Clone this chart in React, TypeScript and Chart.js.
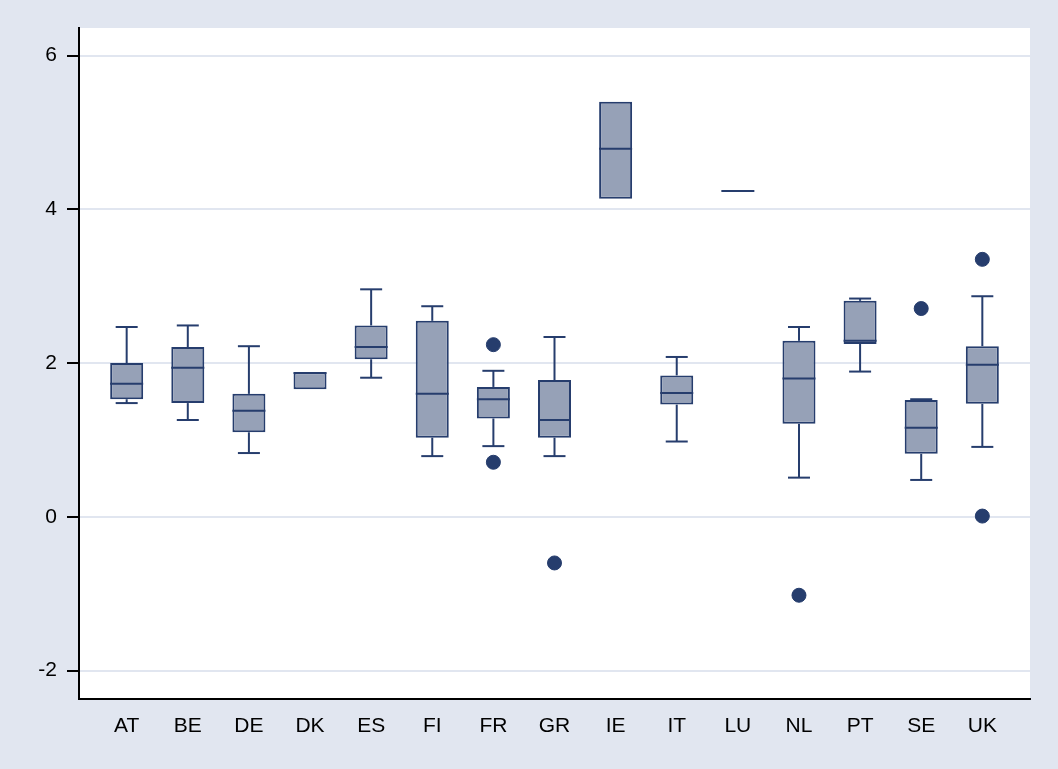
import { useEffect, useRef } from 'react'
import { Chart, registerables } from 'chart.js'

Chart.register(...registerables)

const countries = ['AT', 'BE', 'DE', 'DK', 'ES', 'FI', 'FR', 'GR', 'IE', 'IT', 'LU', 'NL', 'PT', 'SE', 'UK']
const whiskerHigh = [2.47, 2.49, 2.22, null, 2.96, 2.74, 1.9, 2.34, null, 2.08, null, 2.47, 2.84, 1.53, 2.87]
const upperQuartile = [2.0, 2.21, 1.6, 1.88, 2.49, 2.55, 1.69, 1.78, 5.4, 1.84, null, 2.29, 2.81, 1.52, 2.22]
const medians = [1.73, 1.94, 1.38, 1.87, 2.21, 1.6, 1.53, 1.26, 4.79, 1.61, 4.24, 1.8, 2.29, 1.16, 1.98]
const lowerQuartile = [1.53, 1.48, 1.1, 1.66, 2.05, 1.03, 1.28, 1.03, 4.14, 1.46, null, 1.21, 2.25, 0.82, 1.47]
const whiskerLow = [1.48, 1.26, 0.83, null, 1.81, 0.79, 0.92, 0.79, null, 0.98, null, 0.51, 1.89, 0.48, 0.91]
const outliers = [
  { x: 'FR', y: 2.24 },
  { x: 'FR', y: 0.71 },
  { x: 'GR', y: -0.6 },
  { x: 'NL', y: -1.02 },
  { x: 'SE', y: 2.71 },
  { x: 'UK', y: 3.35 },
  { x: 'UK', y: 0.01 },
]
const yTicks = [-2, 0, 2, 4, 6]

const NAVY = '#263d6d'
const FILL = '#96a1b7'
const BG = '#e1e6f0'
const EDGE = 0.78 // gap before first / after last box, in category widths

const boxPlugin = {
  id: 'boxParts',
  beforeDraw(chart: any) {
    const { ctx, chartArea: a } = chart
    ctx.save()
    ctx.fillStyle = '#ffffff'
    ctx.fillRect(a.left, a.top, a.right - a.left, a.bottom - a.top)
    ctx.restore()
  },
  afterDatasetsDraw(chart: any) {
    const { ctx, scales } = chart
    const x = scales.x
    const y = scales.y
    const meta = chart.getDatasetMeta(0)
    const halfBox = (meta.data[0]?.width ?? 33) / 2
    const halfCap = 11
    ctx.save()
    ctx.strokeStyle = NAVY
    ctx.lineWidth = 2
    countries.forEach((_, i) => {
      const cx = x.getPixelForValue(i)
      const line = (x1: number, y1: number, x2: number, y2: number) => {
        ctx.beginPath()
        ctx.moveTo(x1, y1)
        ctx.lineTo(x2, y2)
        ctx.stroke()
      }
      const hi = whiskerHigh[i]
      const q3 = upperQuartile[i]
      const q1 = lowerQuartile[i]
      const lo = whiskerLow[i]
      if (hi != null && q3 != null) {
        line(cx, y.getPixelForValue(q3), cx, y.getPixelForValue(hi))
        line(cx - halfCap, y.getPixelForValue(hi), cx + halfCap, y.getPixelForValue(hi))
      }
      if (lo != null && q1 != null) {
        line(cx, y.getPixelForValue(q1), cx, y.getPixelForValue(lo))
        line(cx - halfCap, y.getPixelForValue(lo), cx + halfCap, y.getPixelForValue(lo))
      }
      const m = y.getPixelForValue(medians[i])
      line(cx - halfBox, m, cx + halfBox, m)
    })
    ctx.restore()
  },
}

export default function App() {
  const canvasRef = useRef<HTMLCanvasElement>(null)

  useEffect(() => {
    if (!canvasRef.current) return
    document.body.style.margin = '0'
    const chart = new Chart(canvasRef.current, {
      type: 'bar',
      data: {
        labels: countries,
        datasets: [
          {
            type: 'bar',
            data: countries.map((_, i) =>
              upperQuartile[i] == null ? null : [lowerQuartile[i], upperQuartile[i]]
            ) as any,
            backgroundColor: FILL,
            borderColor: NAVY,
            borderWidth: 2,
            borderSkipped: false,
            barPercentage: 0.54,
            categoryPercentage: 1,
          },
          {
            type: 'line',
            data: outliers as any,
            showLine: false,
            pointRadius: 7,
            pointBackgroundColor: NAVY,
            pointBorderColor: NAVY,
          },
        ],
      },
      options: {
        animation: false,
        responsive: false,
        maintainAspectRatio: false,
        layout: { padding: { top: 28, right: 28, left: 0, bottom: 0 } },
        plugins: { legend: { display: false }, tooltip: { enabled: false } },
        scales: {
          x: {
            type: 'category',
            offset: true,
            grid: { display: false, drawTicks: false },
            border: { color: '#000', width: 2 },
            ticks: { color: '#000', font: { family: 'Liberation Sans', size: 21 }, padding: 15 },
            afterFit: (s: any) => { s.height = 70 },
            afterUpdate: (s: any) => {
              s._startValue = -EDGE
              s._valueRange = countries.length - 1 + 2 * EDGE
            },
          } as any,
          y: {
            min: -2.37,
            max: 6.36,
            afterBuildTicks: (s: any) => { s.ticks = yTicks.map(v => ({ value: v })) },
            grid: { color: BG, lineWidth: 2, tickColor: '#000', tickLength: 12, tickWidth: 2 },
            border: { color: '#000', width: 2 },
            ticks: { color: '#000', font: { family: 'Liberation Sans', size: 21 }, padding: 10 },
            afterFit: (s: any) => { s.width = 79 },
          },
        },
      },
      plugins: [boxPlugin],
    })
    return () => chart.destroy()
  }, [])

  return (
    <div style={{ width: 1058, height: 769, background: BG }}>
      <canvas ref={canvasRef} width={1058} height={769} />
    </div>
  )
}
